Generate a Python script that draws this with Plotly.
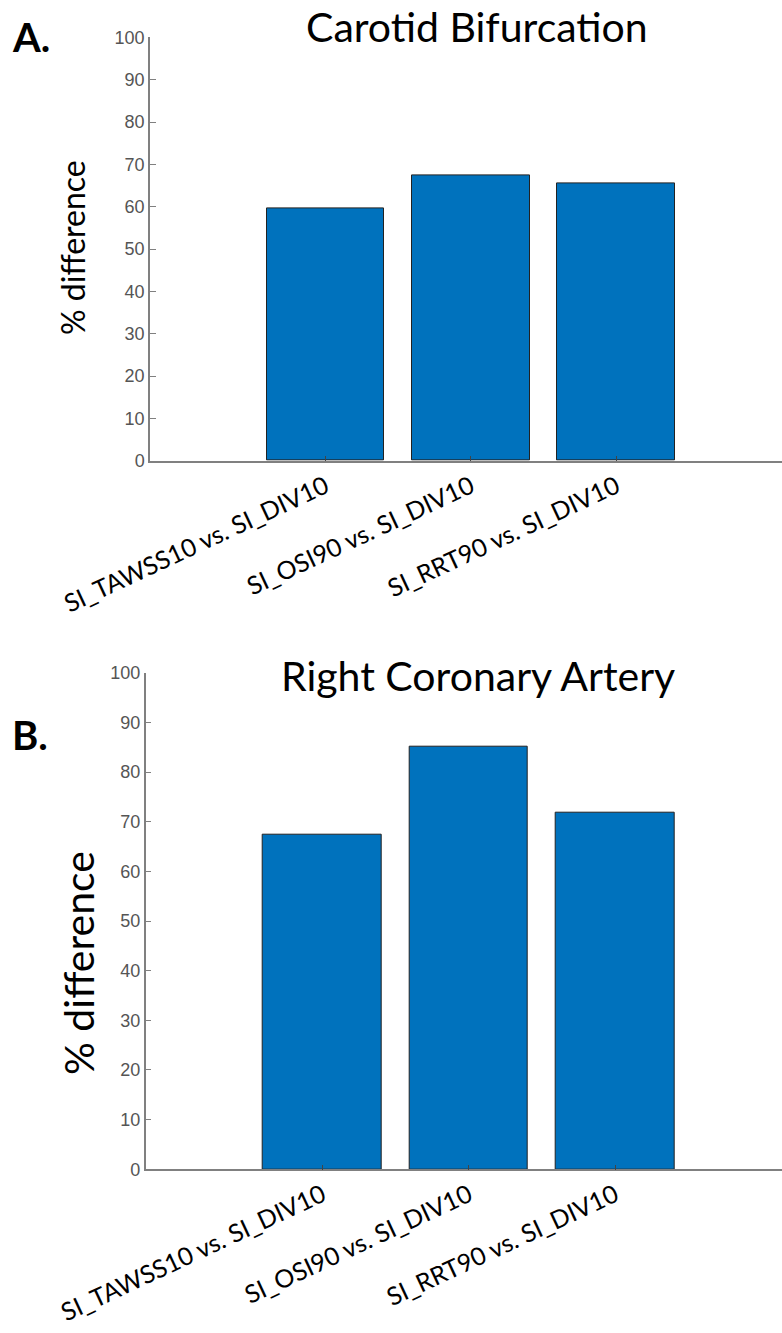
import plotly.graph_objects as go

categories = ["SI_TAWSS10 vs. SI_DIV10", "SI_OSI90 vs. SI_DIV10", "SI_RRT90 vs. SI_DIV10"]
carotid_values = [59.7, 67.3, 65.4]
rca_values = [67.3, 85.0, 71.9]
y_ticks = [0, 10, 20, 30, 40, 50, 60, 70, 80, 90, 100]
panel_titles = ["Carotid Bifurcation", "Right Coronary Artery"]
panel_letters = ["A.", "B."]
y_title = "% difference"

W, H = 782, 1333
x_pos = [1, 2, 3]

fig = go.Figure()
fig.add_trace(go.Bar(x=x_pos, y=carotid_values, width=0.81, marker=dict(color="#0072BD", line=dict(color="#222222", width=1)),
                     xaxis="x", yaxis="y", showlegend=False))
fig.add_trace(go.Bar(x=x_pos, y=rca_values, width=0.81, marker=dict(color="#0072BD", line=dict(color="#222222", width=1)),
                     xaxis="x2", yaxis="y2", showlegend=False))

def fy(px):
    return 1 - px / H

label_font = dict(family="Lato, Open Sans, sans-serif", size=25, color="#000000")
num_font = dict(family="Liberation Sans, Arial, sans-serif", size=18, color="#555555")

common_x = dict(range=[-0.207, 4.14], tickvals=x_pos, ticktext=categories, tickangle=-25,
                ticks="inside", ticklen=5, tickcolor="#444444", showline=True, linecolor="#808080",
                linewidth=1.5, showgrid=False, zeroline=False, tickfont=label_font, automargin=False)
common_y = dict(range=[0, 100], tickvals=y_ticks, ticks="inside", ticklen=6, tickcolor="#808080",
                showline=True, linecolor="#808080", linewidth=1.5, showgrid=False, zeroline=False,
                tickfont=num_font, automargin=False)

fig.update_layout(
    width=W, height=H, margin=dict(l=0, r=0, t=0, b=0, autoexpand=False),
    paper_bgcolor="white", plot_bgcolor="white", bargap=0,
    xaxis=dict(domain=[150 / W, 1.0], anchor="y", **common_x),
    yaxis=dict(domain=[fy(460.7), fy(37.4)], anchor="x", **common_y),
    xaxis2=dict(domain=[145.7 / W, 1.0], anchor="y2", **common_x),
    yaxis2=dict(domain=[fy(1169.3), fy(672.7)], anchor="x2", **common_y),
)

title_font = dict(family="Lato, Open Sans, sans-serif", size=41, color="#000000")
ann = []
ann.append(dict(text=panel_titles[0], x=477 / W, y=fy(27), xref="paper", yref="paper", showarrow=False,
                font=title_font, xanchor="center", yanchor="middle"))
ann.append(dict(text=panel_titles[1], x=478 / W, y=fy(676), xref="paper", yref="paper", showarrow=False,
                font=title_font, xanchor="center", yanchor="middle"))
ann.append(dict(text=y_title, x=72 / W, y=fy(248), xref="paper", yref="paper", showarrow=False, textangle=-90,
                font=dict(family="Lato, Open Sans, sans-serif", size=32, color="#000000"),
                xanchor="center", yanchor="middle"))
ann.append(dict(text=y_title, x=78 / W, y=fy(963), xref="paper", yref="paper", showarrow=False, textangle=-90,
                font=dict(family="Lato, Open Sans, sans-serif", size=41, color="#000000"),
                xanchor="center", yanchor="middle"))
letter_font = dict(family="Lato, Open Sans, sans-serif", size=40, color="#000000")
ann.append(dict(text="<b>" + panel_letters[0] + "</b>", x=10 / W, y=fy(37), xref="paper", yref="paper", showarrow=False,
                font=letter_font, xanchor="left", yanchor="middle"))
ann.append(dict(text="<b>" + panel_letters[1] + "</b>", x=10 / W, y=fy(735), xref="paper", yref="paper", showarrow=False,
                font=letter_font, xanchor="left", yanchor="middle"))
fig.update_layout(annotations=ann)

fig.write_html("out.html")
